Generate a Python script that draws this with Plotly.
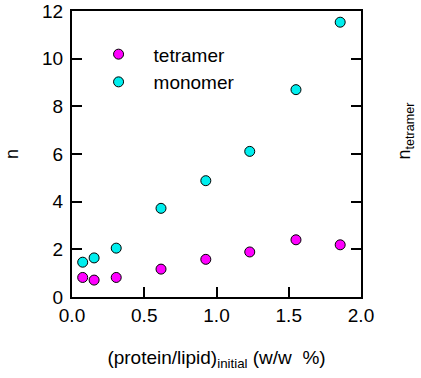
import plotly.graph_objects as go

# Initial protein/lipid ratio (w/w %)
ratio = [0.074, 0.153, 0.306, 0.616, 0.926, 1.23, 1.55, 1.856]

# Number of molecules per aggregate
n_tetramer = [0.82, 0.71, 0.82, 1.17, 1.58, 1.89, 2.40, 2.19]
n_monomer = [1.46, 1.64, 2.05, 3.72, 4.88, 6.11, 8.70, 11.53]

x_ticks = [0.0, 0.5, 1.0, 1.5, 2.0]
y_ticks = [0, 2, 4, 6, 8, 10, 12]

FONT = "Arial, Liberation Sans, sans-serif"

fig = go.Figure()
fig.add_trace(go.Scatter(
    x=ratio, y=n_tetramer, mode="markers", name="tetramer",
    marker=dict(color="#ff00ff", size=10, line=dict(color="black", width=1)),
))
fig.add_trace(go.Scatter(
    x=ratio, y=n_monomer, mode="markers", name="monomer",
    marker=dict(color="#00eeee", size=10, line=dict(color="black", width=1)),
))
# Empty trace carrying the right-hand axis title
fig.add_trace(go.Scatter(x=[None], y=[None], yaxis="y2", showlegend=False))

fig.update_layout(
    width=421, height=378,
    margin=dict(l=72, r=60, t=11, b=81, autoexpand=False),
    paper_bgcolor="white", plot_bgcolor="rgba(0,0,0,0)",
    font=dict(family=FONT, size=19, color="black"),
    showlegend=True,
    legend=dict(
        x=0.04, y=0.915, xanchor="left", yanchor="top",
        bgcolor="rgba(0,0,0,0)", itemwidth=60,
        font=dict(size=19), tracegroupgap=0,
    ),
    xaxis=dict(
        range=[0, 2], tickvals=x_ticks, ticktext=[f"{v:.1f}" for v in x_ticks],
        ticks="inside", ticklen=10, tickwidth=2, tickcolor="black",
        showline=True, linecolor="black", linewidth=2, mirror=True,
        showgrid=False, zeroline=False, automargin=False,
        ticklabeloverflow="allow",
        title=dict(text="(protein/lipid)<sub>initial</sub> (w/w  %)",
                   font=dict(size=19), standoff=26),
    ),
    yaxis=dict(
        range=[0, 12], tickvals=y_ticks,
        ticks="inside", ticklen=10, tickwidth=2, tickcolor="black",
        showline=True, linecolor="black", linewidth=2, mirror="ticks",
        showgrid=False, zeroline=False, automargin=False,
        ticklabelstandoff=3, ticklabeloverflow="allow",
        title=dict(text="n", font=dict(size=18), standoff=19),
    ),
    yaxis2=dict(
        domain=[0.16, 1.0], anchor="x", side="right", range=[0, 12],
        showticklabels=False, ticks="", showline=False, showgrid=False,
        zeroline=False, automargin=False,
        title=dict(text="n<sub>tetramer</sub>", font=dict(size=18), standoff=36),
    ),
)

fig.write_html("out.html")
